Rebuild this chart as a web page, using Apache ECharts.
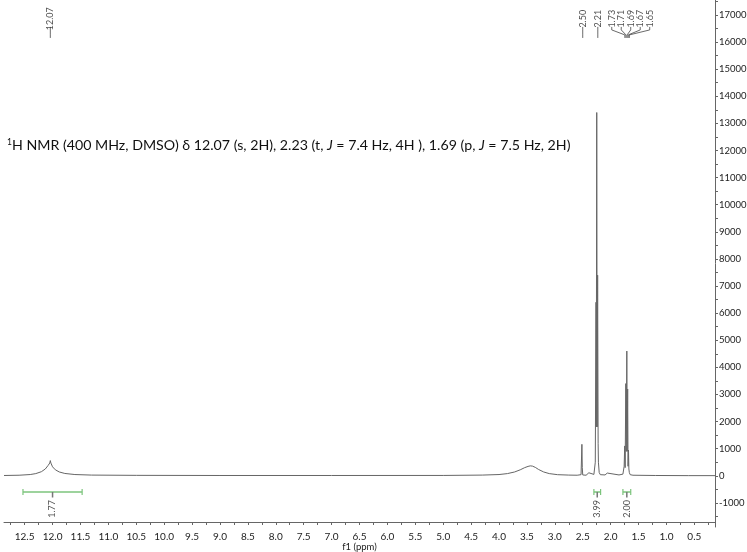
<!DOCTYPE html>
<html>
<head>
<meta charset="utf-8">
<script src="https://cdn.jsdelivr.net/npm/echarts@6/dist/echarts.min.js"></script>
<style>
  html, body { margin: 0; padding: 0; background: #fff; }
  #main { width: 747px; height: 552px; }
</style>
</head>
<body>
<div id="main"></div>
<script>
// axis labels
const xLabels = [12.5, 12.0, 11.5, 11.0, 10.5, 10.0, 9.5, 9.0, 8.5, 8.0, 7.5, 7.0, 6.5, 6.0,
                 5.5, 5.0, 4.5, 4.0, 3.5, 3.0, 2.5, 2.0, 1.5, 1.0, 0.5]
const yLabels = [-1000, 0, 1000, 2000, 3000, 4000, 5000, 6000, 7000, 8000, 9000, 10000,
                 11000, 12000, 13000, 14000, 15000, 16000, 17000]

// spectrum trace (ppm / intensity)
const specPpm = [12.87, 12.6, 12.4, 12.3, 12.2, 12.13, 12.08, 12.05, 12.04, 12.03, 12.0, 11.95, 11.88,
                 11.78, 11.6, 11.3, 10.5, 9.0, 7.0, 5.0, 4.3, 4.0, 3.85, 3.72, 3.62, 3.54, 3.48, 3.44,
                 3.40, 3.35, 3.29, 3.2, 3.1, 2.95, 2.75, 2.6, 2.53, 2.515, 2.508, 2.50, 2.44,
                 2.41, 2.39, 2.37, 2.30, 2.275, 2.262, 2.257, 2.249, 2.241, 2.233, 2.224, 2.219,
                 2.205, 2.185, 2.10, 2.07, 2.06, 2.05, 1.85, 1.78, 1.758, 1.748, 1.74, 1.728,
                 1.72, 1.71, 1.703, 1.695, 1.688, 1.68, 1.673, 1.665, 1.65, 1.60, 1.2, 0.6, 0.13]
const specInt = [10, 20, 45, 80, 150, 250, 380, 470, 560, 470, 330, 220, 140,
                 85, 45, 25, 15, 10, 10, 12, 25, 45, 80, 140, 220, 300, 345, 365,
                 355, 310, 230, 140, 80, 40, 25, 20, 40, 1160, 300, 30, 20,
                 60, 110, 40, 50, 500, 6400, 1800, 13400, 1800, 7400, 1200, 500,
                 120, 40, 30, 60, 100, 40, 30, 60, 350, 1100, 300, 3400,
                 900, 4600, 900, 3200, 350, 950, 250, 120, 40, 20, 10, 5, 5]

// peak picking labels
const peakText = ['12.07', '2.50', '2.21', '1.73', '1.71', '1.69', '1.67', '1.65']
const peakTextPos = [12.04, 2.50, 2.23, 1.98, 1.81, 1.64, 1.47, 1.30]
const peakPos = [12.04, 2.50, 2.23, 1.745, 1.725, 1.705, 1.685, 1.665]

// integrals
const integText = ['1.77', '3.99', '2.00']
const integFrom = [12.53, 2.30, 1.78]
const integTo = [11.47, 2.18, 1.64]

const xTicks = []
xLabels.forEach(v => { xTicks.push(v); xTicks.push(v - 0.25) })
xTicks.push(12.75)
const yTicks = []
yLabels.forEach(v => { yTicks.push(v); yTicks.push(v + 500) })
yTicks.push(-1500)

const font = 'Lato'
const series = []

series.push({
  type: 'line',
  data: specPpm.map((p, i) => [p, specInt[i]]),
  symbol: 'none',
  lineStyle: { color: '#666', width: 1 },
  z: 3
})

// integral bars
integText.forEach((t, i) => {
  const mid = (integFrom[i] + integTo[i]) / 2
  series.push({
    type: 'line',
    data: [[integFrom[i], -600], [integTo[i], -600]],
    symbol: 'rect',
    symbolSize: [1.2, 6],
    itemStyle: { color: '#7cc47c' },
    lineStyle: { color: '#7cc47c', width: 1.5 },
    z: 2
  })
  series.push({
    type: 'line',
    data: [[mid, -600], [mid, -800]],
    symbol: 'none',
    lineStyle: { color: '#777', width: 1.5 },
    z: 2
  })
})
series.push({
  type: 'scatter',
  symbolSize: 1,
  itemStyle: { color: 'transparent' },
  data: integText.map((t, i) => ({ name: t, value: [(integFrom[i] + integTo[i]) / 2, -1220] })),
  label: {
    show: true, position: 'inside', rotate: 90, formatter: '{b}',
    fontFamily: font, fontSize: 9, color: '#222'
  },
  z: 4
})

// peak label connectors
peakText.forEach((t, i) => {
  series.push({
    type: 'line',
    data: [[peakTextPos[i], 16557], [peakTextPos[i], 16446], [peakPos[i], 16262], [peakPos[i], 16151]],
    symbol: 'none',
    lineStyle: { color: '#444', width: 0.8 },
    z: 2
  })
})
series.push({
  type: 'scatter',
  symbolSize: 1,
  itemStyle: { color: 'transparent' },
  data: peakText.map((t, i) => ({ name: t, value: [peakTextPos[i], 16860] })),
  label: {
    show: true, position: 'inside', rotate: 90, formatter: '{b}',
    fontFamily: font, fontSize: 9, color: '#222'
  },
  z: 4
})

const chart = echarts.init(document.getElementById('main'))
chart.setOption({
  animation: false,
  backgroundColor: '#fff',
  title: {
    text: '{sup|1}H NMR (400 MHz, DMSO) δ 12.07 (s, 2H), 2.23 (t, {it|J} = 7.4 Hz, 4H ), 1.69 (p, {it|J} = 7.5 Hz, 2H)',
    left: 2,
    top: 133,
    textStyle: {
      fontFamily: font, fontSize: 14.2, fontWeight: 'normal', color: '#111',
      rich: {
        sup: { fontFamily: font, fontSize: 8.5, verticalAlign: 'top', color: '#111' },
        it: { fontFamily: font, fontSize: 14.2, fontStyle: 'italic', color: '#111' }
      }
    }
  },
  grid: { left: 4, right: 32, top: 0, bottom: 25, outerBoundsMode: 'none', containLabel: false },
  xAxis: {
    type: 'value',
    inverse: true,
    min: 0.13,
    max: 12.87,
    offset: -5,
    name: 'f1 (ppm)',
    nameLocation: 'middle',
    nameGap: 20,
    nameMoveOverlap: false,
    nameTextStyle: { fontFamily: font, fontSize: 9.5, color: '#222' },
    axisLine: { show: true, onZero: false, lineStyle: { color: '#666' } },
    axisTick: { show: true, customValues: xTicks, length: 3, lineStyle: { color: '#666' } },
    axisLabel: {
      customValues: xLabels, margin: 10, fontFamily: font, fontSize: 10, color: '#222',
      formatter: v => v.toFixed(1)
    },
    splitLine: { show: false }
  },
  yAxis: {
    type: 'value',
    position: 'right',
    min: -1890,
    max: 17550,
    axisLine: { show: true, lineStyle: { color: '#666' } },
    axisTick: { show: true, customValues: yTicks, length: 3, lineStyle: { color: '#666' } },
    axisLabel: {
      customValues: yLabels, margin: 4, fontFamily: font, fontSize: 9.5, color: '#222',
      formatter: v => String(v)
    },
    splitLine: { show: false }
  },
  series: series
})
</script>
</body>
</html>
